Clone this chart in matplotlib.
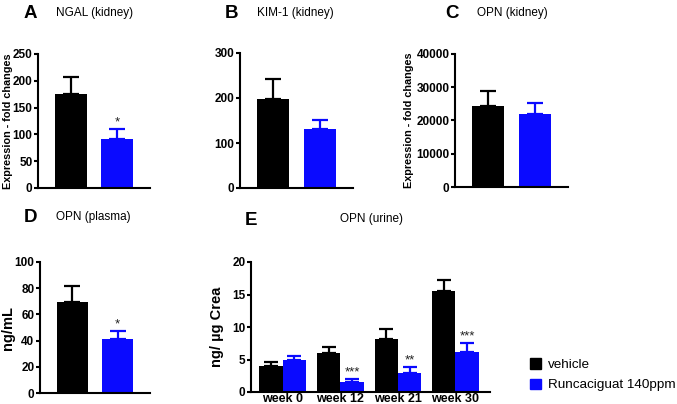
import matplotlib.pyplot as plt
import numpy as np
from matplotlib.patches import Patch

plt.rcParams["font.family"] = ["Liberation Sans", "DejaVu Sans"]

BLACK = "#000000"
BLUE = "#0A0AFF"

groups = ["vehicle", "Runcaciguat 140ppm"]

# panels A-D: (vehicle, runcaciguat) mean and upper error
ngal_mean = [175, 92]
ngal_err = [33, 18]
kim1_mean = [197, 130]
kim1_err = [45, 21]
opn_kidney_mean = [24400, 22000]
opn_kidney_err = [4400, 3400]
opn_plasma_mean = [69.5, 41.5]
opn_plasma_err = [12, 6]

# panel E
weeks = ["week 0", "week 12", "week 21", "week 30"]
urine_vehicle = [4.0, 6.0, 8.2, 15.5]
urine_vehicle_err = [0.6, 1.0, 1.5, 1.8]
urine_runca = [4.9, 1.5, 3.0, 6.2]
urine_runca_err = [0.7, 0.5, 0.9, 1.4]
urine_stars = ["", "***", "**", "***"]

W, H = 677, 404
fig = plt.figure(figsize=(W / 100, H / 100), dpi=100)


def px_axes(x0, y_top, x1, y_bot):
    return fig.add_axes([x0 / W, 1 - y_bot / H, (x1 - x0) / W, (y_bot - y_top) / H])


def style(ax):
    for s in ("top", "right"):
        ax.spines[s].set_visible(False)
    for s in ("left", "bottom"):
        ax.spines[s].set_linewidth(1.5)
    ax.tick_params(axis="y", direction="out", length=3, width=1.5, labelsize=8.5, pad=1)
    for lab in ax.get_yticklabels():
        lab.set_fontweight("bold")


def two_bar(ax, means, errs, ymax, yticks, stars=("", "")):
    x = np.arange(2)
    colors = [BLACK, BLUE]
    for i in range(2):
        ax.bar(x[i], means[i], width=0.69, color=colors[i])
        ax.errorbar(x[i], means[i], yerr=[[0], [errs[i]]], color=colors[i],
                    capsize=5.5, elinewidth=1.6, capthick=1.6, fmt="none")
        if stars[i]:
            ax.text(x[i], means[i] + errs[i] + ymax * 0.005, stars[i], ha="center",
                    va="bottom", fontsize=9.5, color="#222222")
    ax.set_xlim(-0.71, 1.71)
    ax.set_ylim(0, ymax)
    ax.set_yticks(yticks)
    ax.set_xticks([])
    style(ax)


def header(x, y, letter, title):
    fig.text(x / W, 1 - y / H, letter, fontsize=13.5, fontweight="bold", va="center")
    fig.text((x + 32) / W, 1 - y / H, title, fontsize=8.5, va="center")


axA = px_axes(38, 54, 150, 188)
two_bar(axA, ngal_mean, ngal_err, 250, [0, 50, 100, 150, 200, 250], ("", "*"))
axA.set_ylabel("Expression - fold changes", fontsize=7.8, fontweight="bold")
axA.yaxis.set_label_coords(-0.22, 0.5)
header(24, 13, "A", "NGAL (kidney)")

axB = px_axes(240, 53, 353, 188)
two_bar(axB, kim1_mean, kim1_err, 300, [0, 100, 200, 300])
header(225, 13, "B", "KIM-1 (kidney)")

axC = px_axes(455, 54, 568, 187)
two_bar(axC, opn_kidney_mean, opn_kidney_err, 40000, [0, 10000, 20000, 30000, 40000])
axC.set_ylabel("Expression - fold changes", fontsize=7.8, fontweight="bold", labelpad=2)
header(445, 13, "C", "OPN (kidney)")

axD = px_axes(40, 262, 150, 393)
two_bar(axD, opn_plasma_mean, opn_plasma_err, 100, [0, 20, 40, 60, 80, 100], ("", "*"))
axD.set_ylabel("ng/mL", fontsize=10.5, fontweight="bold")
axD.yaxis.set_label_coords(-0.225, 0.5)
header(24, 217, "D", "OPN (plasma)")

axE = px_axes(251, 262, 490, 392)
x = np.arange(len(weeks))
bw = 0.405
axE.bar(x - bw / 2, urine_vehicle, width=bw, color=BLACK)
axE.bar(x + bw / 2, urine_runca, width=bw, color=BLUE)
axE.errorbar(x - bw / 2, urine_vehicle, yerr=[np.zeros(4), urine_vehicle_err], color=BLACK,
             capsize=5, elinewidth=1.6, capthick=1.6, fmt="none")
axE.errorbar(x + bw / 2, urine_runca, yerr=[np.zeros(4), urine_runca_err], color=BLUE,
             capsize=5, elinewidth=1.6, capthick=1.6, fmt="none")
for i, s in enumerate(urine_stars):
    if s:
        axE.text(x[i] + bw / 2, urine_runca[i] + urine_runca_err[i] + 0.1, s, ha="center",
                 va="bottom", fontsize=9.5, color="#222222")
axE.set_xlim(-0.55, 3.6)
axE.set_ylim(0, 20)
axE.set_yticks([0, 5, 10, 15, 20])
axE.set_xticks(x)
axE.set_xticklabels(weeks, fontsize=9, fontweight="bold")
axE.tick_params(axis="x", length=0, pad=1)
style(axE)
axE.set_ylabel("ng/ µg Crea", fontsize=10.5, fontweight="bold", labelpad=6)
fig.text(245 / W, 1 - 220 / H, "E", fontsize=13.5, fontweight="bold", va="center")
fig.text(340 / W, 1 - 219 / H, "OPN (urine)", fontsize=8.5, va="center")

handles = [Patch(color=BLACK), Patch(color=BLUE)]
fig.legend(handles, groups, loc="upper left", bbox_to_anchor=(525 / W, 1 - 353 / H),
           frameon=False, fontsize=9.7, handlelength=0.8, handleheight=0.8,
           handletextpad=0.5, labelspacing=0.55, borderaxespad=0)

fig.savefig("out.png", dpi=100)
